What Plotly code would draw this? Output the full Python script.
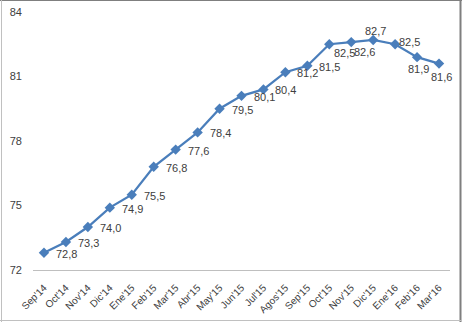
import plotly.graph_objects as go

# Monthly index, Sep 2014 - Mar 2016
months = ["Sep'14", "Oct'14", "Nov'14", "Dic'14", "Ene'15", "Feb'15", "Mar'15",
          "Abr'15", "May'15", "Jun'15", "Jul'15", "Agos'15", "Sep'15", "Oct'15",
          "Nov'15", "Dic'15", "Ene'16", "Feb'16", "Mar'16"]
values = [72.8, 73.3, 74.0, 74.9, 75.5, 76.8, 77.6, 78.4, 79.5, 80.1, 80.4,
          81.2, 81.5, 82.5, 82.6, 82.7, 82.5, 81.9, 81.6]
y_ticks = [72, 75, 78, 81, 84]

# value-label placement: (anchor, x offset px, y offset px)
RIGHT = ("left", 10, -1)
label_style = [RIGHT] * 13 + [
    ("left", 3, -9),     # Oct'15
    ("left", 1, -10),    # Nov'15
    ("center", 2, 9),    # Dic'15
    ("left", 2, 2),      # Ene'16
    ("center", 1, -12),  # Feb'16
    ("center", 2, -13),  # Mar'16
]

labels = [f"{v:.1f}".replace(".", ",") for v in values]

LINE_BLUE = "#4a7ebb"
TEXT = "#404040"
FONT = "Liberation Sans"

fig = go.Figure(
    go.Scatter(
        x=months,
        y=values,
        mode="lines+markers",
        line=dict(color=LINE_BLUE, width=2.25),
        marker=dict(symbol="diamond", size=8, color=LINE_BLUE),
        cliponaxis=False,
        hoverinfo="x+y",
    )
)

for m, v, lab, (anchor, dx, dy) in zip(months, values, labels, label_style):
    fig.add_annotation(
        x=m, y=v, text=lab, showarrow=False,
        xanchor=anchor, yanchor="middle",
        xshift=dx, yshift=dy,
        font=dict(family=FONT, size=11, color=TEXT),
    )

W, H = 462, 322
ml, mr, mt, mb = 33, 12, 12, 52
pw, ph = W - ml - mr, H - mt - mb


def px_x(px):
    return (px - ml) / pw


def px_y(py):
    return (H - mb - py) / ph


def frame_line(x0, y0, x1, y1, color, width=1):
    return dict(type="line", xref="paper", yref="paper",
                x0=px_x(x0), y0=px_y(y0), x1=px_x(x1), y1=px_y(y1),
                line=dict(color=color, width=width), layer="below")


fig.update_layout(
    width=W,
    height=H,
    margin=dict(l=ml, r=mr, t=mt, b=mb, pad=0, autoexpand=False),
    paper_bgcolor="white",
    plot_bgcolor="white",
    showlegend=False,
    font=dict(family=FONT, size=11, color=TEXT),
    xaxis=dict(
        type="category",
        range=[-0.5, len(months) - 0.5],
        tickangle=-45,
        tickfont=dict(size=10, color=TEXT),
        ticklabelstandoff=7,
        automargin=False,
        showgrid=False,
        showline=True,
        linecolor="#bfbfbf",
        linewidth=1,
        ticks="",
        zeroline=False,
    ),
    yaxis=dict(
        range=[72, 84],
        tickvals=y_ticks,
        ticktext=[str(t) for t in y_ticks],
        tickfont=dict(size=11, color=TEXT),
        automargin=False,
        showgrid=False,
        showline=False,
        zeroline=False,
        ticks="",
        ticklabelstandoff=10,
    ),
    shapes=[
        # chart frame: darker top/right edges, lighter left/bottom edges
        frame_line(0, 0.5, W, 0.5, "#7f7f7f"),
        frame_line(460.5, 0, 460.5, H, "#7f7f7f", 2),
        frame_line(1.5, 0, 1.5, H, "#c0c0c0"),
        frame_line(0, 320.5, W, 320.5, "#c0c0c0"),
    ],
)

fig.write_html("out.html")
